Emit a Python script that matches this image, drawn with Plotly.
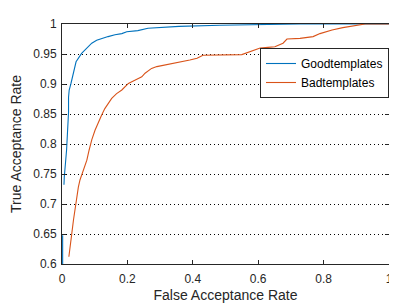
import plotly.graph_objects as go

good_x = [0.002, 0.002, None, 0.006, 0.007, 0.014, 0.020, 0.020, 0.022, 0.027, 0.037, 0.043, 0.060, 0.076,
          0.091, 0.106, 0.121, 0.141, 0.162, 0.183, 0.198, 0.232, 0.263, 0.318, 0.358, 0.483, 0.587,
          0.728, 1.0]
good_y = [0.59, 0.648, None, 0.732, 0.745, 0.79, 0.853, 0.878, 0.89, 0.90, 0.927, 0.937, 0.951, 0.96,
          0.968, 0.973, 0.976, 0.979, 0.982, 0.984, 0.987, 0.989, 0.9928, 0.9945, 0.996, 0.998, 0.999,
          1.0, 1.0]

bad_x = [0.021, 0.024, 0.030, 0.035, 0.040, 0.043, 0.047, 0.050, 0.055, 0.060, 0.065, 0.076, 0.083,
         0.091, 0.101, 0.109, 0.121, 0.131, 0.142, 0.152, 0.167, 0.183, 0.203, 0.223, 0.244, 0.254,
         0.274, 0.290, 0.309, 0.330, 0.346, 0.370, 0.391, 0.413, 0.422, 0.431, 0.550, 0.566, 0.575,
         0.590, 0.606, 0.630, 0.651, 0.676, 0.688, 0.728, 0.768, 0.789, 0.826, 0.859, 0.911, 0.927, 1.0]
bad_y = [0.612, 0.629, 0.651, 0.673, 0.693, 0.704, 0.723, 0.728, 0.740, 0.748, 0.757, 0.773, 0.790,
         0.807, 0.823, 0.834, 0.848, 0.859, 0.868, 0.876, 0.884, 0.890, 0.901, 0.907, 0.912, 0.918,
         0.926, 0.929, 0.931, 0.933, 0.934, 0.937, 0.940, 0.943, 0.946, 0.948, 0.949, 0.952, 0.955,
         0.957, 0.960, 0.961, 0.962, 0.968, 0.975, 0.976, 0.979, 0.984, 0.990, 0.994, 0.998, 1.0, 1.0]

x_ticks = [0, 0.2, 0.4, 0.6, 0.8, 1]
x_tick_labels = ["0", "0.2", "0.4", "0.6", "0.8", "1"]
y_ticks = [0.6, 0.65, 0.7, 0.75, 0.8, 0.85, 0.9, 0.95, 1]
y_tick_labels = ["0.6", "0.65", "0.7", "0.75", "0.8", "0.85", "0.9", "0.95", "1"]

font = "Liberation Sans, Arial, sans-serif"

fig = go.Figure()
fig.add_trace(go.Scatter(x=good_x, y=good_y, mode="lines", name="Goodtemplates",
                         line=dict(color="#0072BD", width=1.1), connectgaps=False))
fig.add_trace(go.Scatter(x=bad_x, y=bad_y, mode="lines", name="Badtemplates",
                         line=dict(color="#D95319", width=1.1)))

# page body has an 8px margin; the figure is sized to fit inside the 397x303 window
fig.update_layout(
    width=389, height=295,
    margin=dict(l=54, r=8, t=16, b=39, autoexpand=False),
    paper_bgcolor="white", plot_bgcolor="white",
    font=dict(family=font, size=12, color="#262626"),
    showlegend=True,
    legend=dict(x=1, y=0.9, xanchor="right", yanchor="top",
                bordercolor="#262626", borderwidth=1, bgcolor="white",
                font=dict(size=12, color="#000000"),
                tracegroupgap=0, itemwidth=30),
)
fig.update_xaxes(
    range=[0, 1.0001], tickvals=x_ticks, ticktext=x_tick_labels, automargin=False,
    showline=True, linecolor="#262626", linewidth=1, mirror="ticks",
    ticks="inside", ticklen=4, tickcolor="#262626", ticklabelstandoff=4,
    showgrid=False, zeroline=False,
    title=dict(text="False Acceptance Rate", font=dict(size=14), standoff=4),
)
fig.update_yaxes(
    range=[0.6, 1], tickvals=y_ticks, ticktext=y_tick_labels, automargin=False,
    showline=True, linecolor="#262626", linewidth=1, mirror="ticks",
    ticks="inside", ticklen=4, tickcolor="#262626", ticklabelstandoff=2,
    showgrid=True, gridcolor="#000000", griddash="1px,3px", gridwidth=1,
    zeroline=False,
    title=dict(text="True Acceptance Rate", font=dict(size=14), standoff=8),
)

fig.write_html("out.html")
